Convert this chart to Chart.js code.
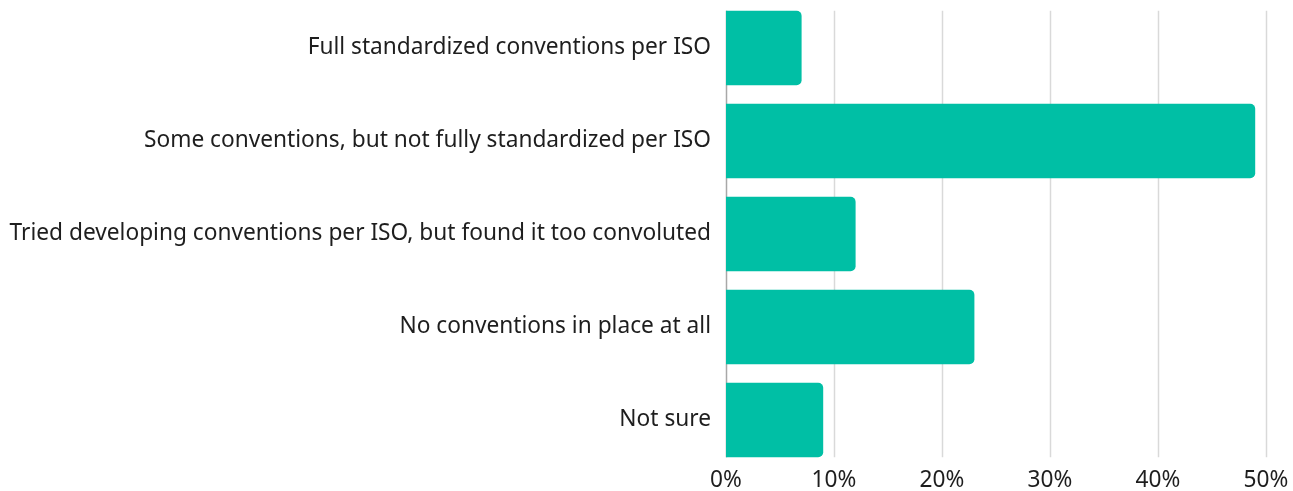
<!DOCTYPE html>
<html>
<head>
<meta charset="utf-8">
<script src="https://cdn.jsdelivr.net/npm/chart.js@4"></script>
<style>
  html, body { margin: 0; padding: 0; background: #fff; }
  #wrap { width: 1293px; height: 491px; position: relative; }
</style>
</head>
<body>
<div id="wrap"><canvas id="myChart"></canvas></div>
<script>
var labels = [
  "Full standardized conventions per ISO",
  "Some conventions, but not fully standardized per ISO",
  "Tried developing conventions per ISO, but found it too convoluted",
  "No conventions in place at all",
  "Not sure"
];
var shares = [7, 49, 12, 23, 9];
var tickValues = [0, 10, 20, 30, 40, 50];

var barColor = "#00bfa5";
var textFont = { family: "Noto Sans", size: 22.7 };

// grid lines only span from the first bar top to the last bar bottom
var shortGrid = {
  id: "shortGrid",
  beforeDatasetsDraw: function (chart) {
    var ctx = chart.ctx;
    var xs = chart.scales.x;
    var bars = chart.getDatasetMeta(0).data;
    var top = bars[0].y - bars[0].height / 2;
    var last = bars[bars.length - 1];
    var bottom = last.y + last.height / 2;
    ctx.save();
    tickValues.forEach(function (v) {
      var px = Math.round(xs.getPixelForValue(v)) + 0.5;
      ctx.strokeStyle = v === 0 ? "#a8a8a8" : "#d9d9d9";
      ctx.lineWidth = 1.5;
      ctx.beginPath();
      ctx.moveTo(px, top);
      ctx.lineTo(px, bottom);
      ctx.stroke();
    });
    ctx.restore();
  }
};

new Chart("myChart", {
  type: "bar",
  data: {
    labels: labels,
    datasets: [{
      data: shares,
      backgroundColor: barColor,
      borderRadius: { topRight: 5, bottomRight: 5 },
      borderSkipped: "start",
      categoryPercentage: 0.8,
      barPercentage: 1
    }]
  },
  options: {
    indexAxis: "y",
    responsive: true,
    maintainAspectRatio: false,
    animation: false,
    layout: { padding: { top: 1.5, right: 0, bottom: 0, left: 0 } },
    plugins: {
      legend: { display: false },
      tooltip: { enabled: false }
    },
    scales: {
      x: {
        min: 0,
        max: 50,
        afterBuildTicks: function (axis) {
          axis.ticks = tickValues.map(function (v) { return { value: v }; });
        },
        afterFit: function (axis) {
          axis.height = 24.5;
          axis.paddingLeft = 0;
          axis.paddingRight = 27;
        },
        grid: { display: false, drawTicks: false },
        border: { display: false },
        ticks: {
          padding: 0,
          color: "#1e1e1e",
          font: textFont,
          callback: function (v) { return v + "%"; }
        }
      },
      y: {
        afterFit: function (axis) {
          axis.width = 726;
          axis.paddingTop = 0;
          axis.paddingBottom = 0;
        },
        grid: { display: false, drawTicks: false },
        border: { display: false },
        ticks: {
          padding: 15,
          color: "#1e1e1e",
          font: textFont
        }
      }
    }
  },
  plugins: [shortGrid]
});
</script>
</body>
</html>
